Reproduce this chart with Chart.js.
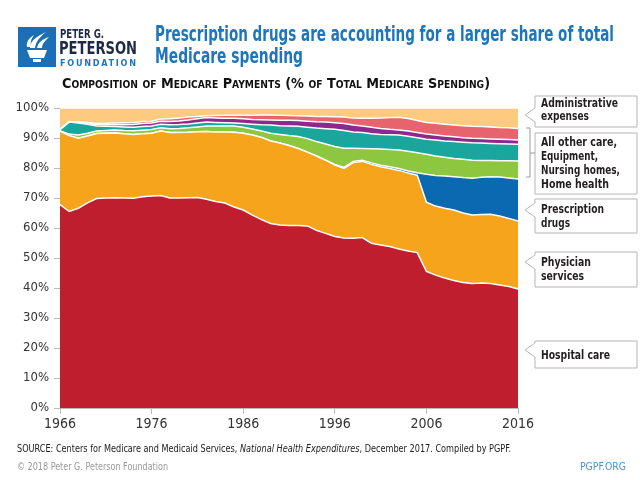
<!DOCTYPE html>
<html>
<head>
<meta charset="utf-8">
<script src="https://cdn.jsdelivr.net/npm/chart.js@4.4.1/dist/chart.umd.min.js"></script>
<style>
html, body { margin: 0; padding: 0; background: #fff; }
#wrap { position: relative; width: 640px; height: 480px; overflow: hidden; }
#c, #ov { position: absolute; left: 0; top: 0; }
#ov text { font-family: "Liberation Sans Narrow", "DejaVu Sans Condensed", "Roboto", sans-serif; }
</style>
</head>
<body>
<div id="wrap">
<canvas id="c" width="640" height="480"></canvas>
<svg id="ov" width="640" height="480" viewBox="0 0 640 480">
  <!-- logo -->
  <rect x="18" y="27" width="38" height="40" fill="#1b6fb6"/>
  <path d="M27 50 H47 L44 58 H30 Z M33 59 H41 V62 H33 Z" fill="#fff"/>
  <path d="M30 48 C30 40 38 36 46 32 C40 37 36 41 35 48 Z" fill="#fff"/>
  <path d="M37 48 C38 42 43 39 49 37 C45 41 42 44 42 48 Z" fill="#fff"/>
  <path d="M27 47 C26 42 29 38 34 35 C31 39 30 43 31 47 Z" fill="#fff"/>
  <text x="60" y="38" font-size="12.5" font-weight="bold" fill="#1e2a45" textLength="44" lengthAdjust="spacingAndGlyphs">PETER G.</text>
  <text x="59" y="54" font-size="18" font-weight="bold" fill="#1e2a45" textLength="78" lengthAdjust="spacingAndGlyphs">PETERSON</text>
  <text x="60" y="66" font-size="9" font-weight="bold" fill="#1d76bb" textLength="76" lengthAdjust="spacing">FOUNDATION</text>

  <!-- title -->
  <text x="155" y="41" font-size="21" font-weight="bold" fill="#1d76bb" textLength="459" lengthAdjust="spacingAndGlyphs">Prescription drugs are accounting for a larger share of total</text>
  <text x="155" y="63" font-size="21" font-weight="bold" fill="#1d76bb" textLength="148" lengthAdjust="spacingAndGlyphs">Medicare spending</text>

  <!-- subtitle -->
  <text x="62" y="88" font-size="14" font-weight="bold" fill="#111" font-variant="small-caps" textLength="428" lengthAdjust="spacingAndGlyphs">Composition of Medicare Payments (% of Total Medicare Spending)</text>

  <!-- callouts -->
  <g fill="#fff" stroke="#b5b5b5" stroke-width="1">
    <path d="M535 96 H637 V127 H535 V122 L525 115 L535 108 Z"/>
    <path d="M535 133 H637 V194 H535 Z"/>
    <path d="M535 199 H637 V233 H535 V217 L525 210 L535 203 Z"/>
    <path d="M535 252 H637 V287 H535 V269 L525 262 L535 255 Z"/>
    <path d="M535 341 H637 V368 H535 V357 L525 350 L535 343 Z"/>
  </g>
  <path d="M526 128 H530 V177 H526 M530 153 H535" fill="none" stroke="#9a9a9a" stroke-width="1"/>
  <g font-size="13" font-weight="bold" fill="#231f20" lengthAdjust="spacingAndGlyphs">
    <text x="541" y="107" textLength="77" lengthAdjust="spacingAndGlyphs">Administrative</text>
    <text x="541" y="120" textLength="48" lengthAdjust="spacingAndGlyphs">expenses</text>
    <text x="541" y="146" textLength="76" lengthAdjust="spacingAndGlyphs">All other care,</text>
    <text x="541" y="160" textLength="57" lengthAdjust="spacingAndGlyphs">Equipment,</text>
    <text x="541" y="174" textLength="79" lengthAdjust="spacingAndGlyphs">Nursing homes,</text>
    <text x="541" y="188" textLength="68" lengthAdjust="spacingAndGlyphs">Home health</text>
    <text x="541" y="213" textLength="63" lengthAdjust="spacingAndGlyphs">Prescription</text>
    <text x="541" y="227" textLength="29" lengthAdjust="spacingAndGlyphs">drugs</text>
    <text x="541" y="266" textLength="50" lengthAdjust="spacingAndGlyphs">Physician</text>
    <text x="541" y="280" textLength="43" lengthAdjust="spacingAndGlyphs">services</text>
    <text x="541" y="359" textLength="69" lengthAdjust="spacingAndGlyphs">Hospital care</text>
  </g>

  <!-- footer -->
  <text x="17" y="452" font-size="11" fill="#222" textLength="494" lengthAdjust="spacingAndGlyphs">SOURCE: Centers for Medicare and Medicaid Services, <tspan font-style="italic">National Health Expenditures</tspan>, December 2017. Compiled by PGPF.</text>
  <text x="17" y="470" font-size="10.5" fill="#9a9a9a" textLength="151" lengthAdjust="spacingAndGlyphs">© 2018 Peter G. Peterson Foundation</text>
  <text x="580" y="470" font-size="10.5" fill="#4a93d0" textLength="46" lengthAdjust="spacingAndGlyphs">PGPF.ORG</text>
</svg>
</div>

<script>
// años 1966-2016
const years = [1966,1967,1968,1969,1970,1971,1972,1973,1974,1975,1976,1977,1978,1979,1980,
  1981,1982,1983,1984,1985,1986,1987,1988,1989,1990,1991,1992,1993,1994,1995,1996,1997,1998,
  1999,2000,2001,2002,2003,2004,2005,2006,2007,2008,2009,2010,2011,2012,2013,2014,2015,2016];
const xTicks = [1966, 1976, 1986, 1996, 2006, 2016];

// % del gasto total de Medicare
const hospital = [67.8,65.5,66.6,68.4,69.8,70.0,70.1,70.0,69.9,70.4,70.7,70.8,70.0,70.0,70.1,
  70.2,69.6,68.8,68.3,67.0,66.0,64.3,62.8,61.5,61.0,60.8,60.8,60.7,59.2,58.2,57.2,56.7,56.6,
  56.8,54.9,54.3,53.8,53.0,52.3,51.8,45.5,44.3,43.3,42.5,41.8,41.5,41.7,41.5,41.0,40.5,39.7];
const physician = [24.5,25.3,23.3,22.3,21.7,21.6,21.6,21.4,21.3,21.0,20.9,21.5,21.8,21.8,21.8,
  21.9,22.6,23.2,23.8,24.9,25.6,26.7,27.4,27.5,27.3,26.7,25.7,24.6,24.8,24.4,23.8,23.2,25.2,
  25.4,26.3,26.1,26.0,26.2,26.0,25.8,23.1,23.0,23.3,23.5,23.2,22.8,22.8,23.1,23.0,22.7,22.6];
const drugs = [0,0,0,0,0,0,0,0,0,0,0,0,0,0,0,
  0,0,0,0,0,0,0,0,0,0,0,0,0,0,0,0.2,0.3,0.4,
  0.4,0.5,0.5,0.6,0.6,0.7,0.8,9.3,10.2,10.7,11.1,11.8,12.3,12.4,12.5,13.0,13.5,14.0];
const homeHealth = [0.1,0.5,1.1,0.9,0.8,0.9,1.0,1.1,1.2,1.2,1.2,1.1,1.3,1.4,1.5,
  1.6,1.8,2.0,2.0,2.1,2.0,2.0,2.1,2.6,2.9,3.3,4.0,4.5,4.8,5.4,6.0,6.4,4.4,
  3.9,4.7,5.4,5.8,6.2,6.6,6.7,6.7,6.5,6.3,6.1,6.1,6.0,5.6,5.4,5.4,5.7,6.0];
const nursingHomes = [0.4,4.0,4.0,3.0,1.7,1.4,1.1,1.2,1.2,1.2,1.2,1.2,1.3,1.3,1.3,
  1.3,1.3,1.2,1.0,1.0,1.2,1.6,2.1,2.7,2.9,3.2,3.4,3.8,4.5,5.1,5.7,5.9,5.4,
  5.3,5.0,4.9,4.9,5.0,5.0,5.0,5.0,5.3,5.4,5.6,5.7,5.8,5.8,5.7,5.7,5.6,5.6];
const equipment = [0,0.1,0.2,0.3,0.4,0.5,0.6,0.7,0.9,1.0,1.0,1.0,1.1,1.2,1.3,
  1.4,1.5,1.5,1.5,1.6,1.6,1.6,1.7,1.7,1.8,1.9,1.9,2.0,2.1,2.2,2.2,2.3,2.3,
  2.2,2.2,2.0,1.8,1.7,1.7,1.7,1.7,1.7,1.7,1.6,1.5,1.5,1.5,1.5,1.5,1.5,1.4];
const otherCare = [0.1,0.1,0.2,0.3,0.4,0.5,0.6,0.7,0.7,0.7,0.6,0.7,0.9,1.0,1.0,
  0.8,0.6,0.8,1.0,1.0,1.2,1.4,1.6,1.7,1.7,1.6,1.6,1.7,1.8,1.9,2.0,2.2,2.4,
  2.6,3.0,3.5,3.9,4.2,4.2,4.0,3.9,3.9,3.9,3.9,4.0,4.0,4.0,4.0,3.9,3.9,3.9];
const admin = [7.1,4.5,4.6,4.8,5.2,5.1,5.0,4.9,4.8,4.5,4.4,3.7,3.6,3.3,3.0,
  2.8,2.6,2.5,2.4,2.4,2.4,2.4,2.3,2.3,2.4,2.5,2.6,2.7,2.8,2.8,2.9,3.0,3.3,
  3.4,3.4,3.3,3.2,3.1,3.5,4.2,4.8,5.1,5.4,5.7,5.9,6.1,6.2,6.3,6.5,6.6,6.8];

const series = [
  { label: 'Hospital care', data: hospital, color: '#be1e2d' },
  { label: 'Physician services', data: physician, color: '#f7a41d' },
  { label: 'Prescription drugs', data: drugs, color: '#0b69b2' },
  { label: 'Home health', data: homeHealth, color: '#8dc63f' },
  { label: 'Nursing homes', data: nursingHomes, color: '#1aa59d' },
  { label: 'Equipment', data: equipment, color: '#8d288f' },
  { label: 'All other care', data: otherCare, color: '#e7646e' },
  { label: 'Administrative expenses', data: admin, color: '#fdca7f' }
];

const fuente = '"Liberation Sans Narrow", "DejaVu Sans Condensed", sans-serif';

new Chart(document.getElementById('c').getContext('2d'), {
  type: 'line',
  data: {
    datasets: series.map((s, i) => ({
      label: s.label,
      data: years.map((yr, j) => ({ x: yr, y: s.data[j] })),
      backgroundColor: s.color,
      borderColor: '#ffffff',
      borderWidth: 1.5,
      pointRadius: 0,
      tension: 0,
      fill: i === 0 ? 'origin' : '-1'
    }))
  },
  options: {
    responsive: false,
    animation: false,
    layout: { padding: { left: 0, top: 108, right: 122, bottom: 50 } },
    plugins: { legend: { display: false }, tooltip: { enabled: false } },
    scales: {
      x: {
        type: 'linear',
        min: 1966,
        max: 2016,
        afterBuildTicks: s => { s.ticks = xTicks.map(v => ({ value: v })); },
        afterFit: s => { s.height = 22; s.paddingLeft = 0; s.paddingRight = 0; },
        ticks: { color: '#333', font: { family: fuente, size: 14 }, padding: 2, maxRotation: 0, callback: v => String(v) },
        grid: { drawOnChartArea: false, tickLength: 6, color: '#bbb' },
        border: { color: '#bbb' }
      },
      y: {
        stacked: true,
        min: 0,
        max: 100,
        afterFit: s => { s.width = 60; s.paddingTop = 0; s.paddingBottom = 0; },
        ticks: { stepSize: 10, color: '#333', font: { family: fuente, size: 13 }, padding: 5, callback: v => v + '%' },
        grid: { drawOnChartArea: false, tickLength: 6, color: '#bbb' },
        border: { color: '#bbb' }
      }
    }
  }
});
</script>
</body>
</html>
